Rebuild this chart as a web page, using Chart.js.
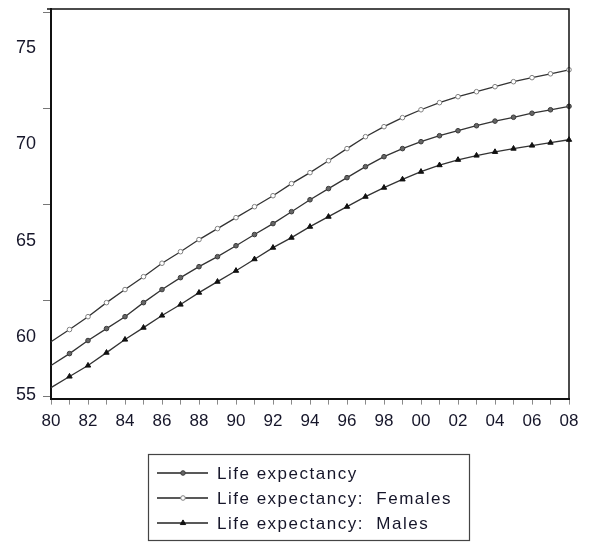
<!DOCTYPE html>
<html>
<head>
<meta charset="utf-8">
<script src="https://cdn.jsdelivr.net/npm/chart.js"></script>
<style>
  html, body { margin: 0; padding: 0; background: #fff; }
  canvas { display: block; }
</style>
</head>
<body>
<canvas id="lifeChart" width="592" height="545"></canvas>
<script>
const years = [1980, 1981, 1982, 1983, 1984, 1985, 1986, 1987, 1988, 1989,
               1990, 1991, 1992, 1993, 1994, 1995, 1996, 1997, 1998, 1999,
               2000, 2001, 2002, 2003, 2004, 2005, 2006, 2007, 2008];

const lifeTotal = [56.63, 57.25, 57.93, 58.55, 59.17, 59.90, 60.58, 61.20, 61.77, 62.29,
                   62.86, 63.44, 64.01, 64.63, 65.25, 65.83, 66.40, 66.97, 67.49, 67.91,
                   68.27, 68.58, 68.84, 69.10, 69.34, 69.54, 69.75, 69.93, 70.11];
const lifeFemales = [57.87, 58.50, 59.17, 59.90, 60.58, 61.25, 61.95, 62.55, 63.18, 63.75,
                     64.32, 64.89, 65.46, 66.09, 66.66, 67.28, 67.91, 68.53, 69.05, 69.52,
                     69.93, 70.30, 70.61, 70.87, 71.13, 71.39, 71.60, 71.80, 72.01];
const lifeMales = [55.48, 56.06, 56.63, 57.30, 57.98, 58.60, 59.23, 59.80, 60.42, 60.99,
                   61.56, 62.16, 62.76, 63.28, 63.85, 64.37, 64.89, 65.41, 65.88, 66.31,
                   66.71, 67.05, 67.33, 67.55, 67.74, 67.91, 68.07, 68.22, 68.37];

const yTicks = [55, 60, 65, 70, 75];
const seriesNames = ['Life expectancy', 'Life expectancy:  Females', 'Life expectancy:  Males'];

const ink = '#16162a';
const family = '"Liberation Sans", Arial, sans-serif';

const markers = [
    { pointStyle: 'circle',   radius: 2.3, fill: '#666666', stroke: '#3a3a3a' },
    { pointStyle: 'circle',   radius: 2.3, fill: '#ffffff', stroke: '#808080' },
    { pointStyle: 'triangle', radius: 3.1, fill: '#111111', stroke: '#111111' },
];

// markers on every year except the first one
const markerRadius = r => ctx => ctx.dataIndex === 0 ? 0 : r;

const datasets = [lifeTotal, lifeFemales, lifeMales].map((data, i) => ({
    label: seriesNames[i],
    data,
    borderColor: '#333',
    borderWidth: 1.3,
    tension: 0,
    pointStyle: markers[i].pointStyle,
    pointRadius: markerRadius(markers[i].radius),
    pointBackgroundColor: markers[i].fill,
    pointBorderColor: markers[i].stroke,
    pointBorderWidth: 1,
}));

// top and right edges of the box
const frame = {
    id: 'frame',
    afterDraw(chart) {
        const { ctx, chartArea: a } = chart;
        ctx.save();
        ctx.strokeStyle = '#111';
        ctx.lineWidth = 1.5;
        ctx.beginPath();
        ctx.moveTo(a.left - 4, a.top);
        ctx.lineTo(a.right, a.top);
        ctx.lineTo(a.right, a.bottom);
        ctx.stroke();
        ctx.restore();
    },
};

// value labels sit a little below their tick, the lowest one stays on the axis
const yLabels = {
    id: 'yLabels',
    afterDraw(chart) {
        const { ctx } = chart;
        const y = chart.scales.y;
        ctx.save();
        ctx.font = `18px ${family}`;
        ctx.fillStyle = ink;
        ctx.textAlign = 'right';
        ctx.textBaseline = 'middle';
        yTicks.forEach(v => {
            const py = Math.min(y.getPixelForValue(v) + 36, y.bottom - 4);
            ctx.fillText(String(v), y.left - 7, py);
        });
        ctx.restore();
    },
};

// boxed legend under the plot, one series per row
const boxLegend = {
    id: 'boxLegend',
    afterDraw(chart) {
        const { ctx, chartArea: a } = chart;
        const w = 321, h = 86, rowH = 25;
        const left = Math.round((a.left + a.right) / 2 - w / 2) - 2;
        const top = chart.height - h - 5;

        ctx.save();
        ctx.strokeStyle = '#444';
        ctx.lineWidth = 1.2;
        ctx.strokeRect(left + 0.5, top + 0.5, w, h);

        ctx.font = `17px ${family}`;
        ctx.textBaseline = 'middle';
        if ('letterSpacing' in ctx) ctx.letterSpacing = '1.5px';

        chart.data.datasets.forEach((ds, i) => {
            const cy = top + 19 + i * rowH;
            ctx.strokeStyle = '#222';
            ctx.lineWidth = 1.3;
            ctx.beginPath();
            ctx.moveTo(left + 9, cy);
            ctx.lineTo(left + 60, cy);
            ctx.stroke();

            const m = markers[i];
            ctx.fillStyle = m.fill;
            ctx.strokeStyle = m.stroke;
            ctx.lineWidth = 1;
            Chart.helpers.drawPoint(ctx, { pointStyle: m.pointStyle, radius: m.radius, rotation: 0, borderWidth: 1 }, left + 35, cy);

            ctx.fillStyle = ink;
            ctx.fillText(ds.label, left + 69, cy + 1);
        });
        ctx.restore();
    },
};

new Chart(document.getElementById('lifeChart'), {
    type: 'line',
    data: { labels: years, datasets },
    options: {
        responsive: false,
        animation: false,
        devicePixelRatio: 1,
        layout: { padding: { left: 43, right: 23, top: 9, bottom: 106 } },
        plugins: {
            legend: { display: false },
            tooltip: { enabled: false },
        },
        scales: {
            x: {
                offset: false,
                grid: { display: true, drawOnChartArea: false, tickLength: 6, color: '#8a8a8a' },
                border: { color: '#111', width: 2 },
                ticks: {
                    autoSkip: false,
                    maxRotation: 0,
                    padding: 7,
                    color: ink,
                    font: { family, size: 17 },
                    callback: (v, i) => i % 2 === 0 ? String(years[i]).slice(2) : '',
                },
            },
            y: {
                min: 54.91,
                max: 75.17,
                afterBuildTicks: scale => { scale.ticks = yTicks.map(value => ({ value })); },
                grid: { display: true, drawOnChartArea: false, tickLength: 8, color: '#777' },
                border: { color: '#111', width: 2 },
                ticks: { display: false },
            },
        },
    },
    plugins: [frame, yLabels, boxLegend],
});
</script>
</body>
</html>
